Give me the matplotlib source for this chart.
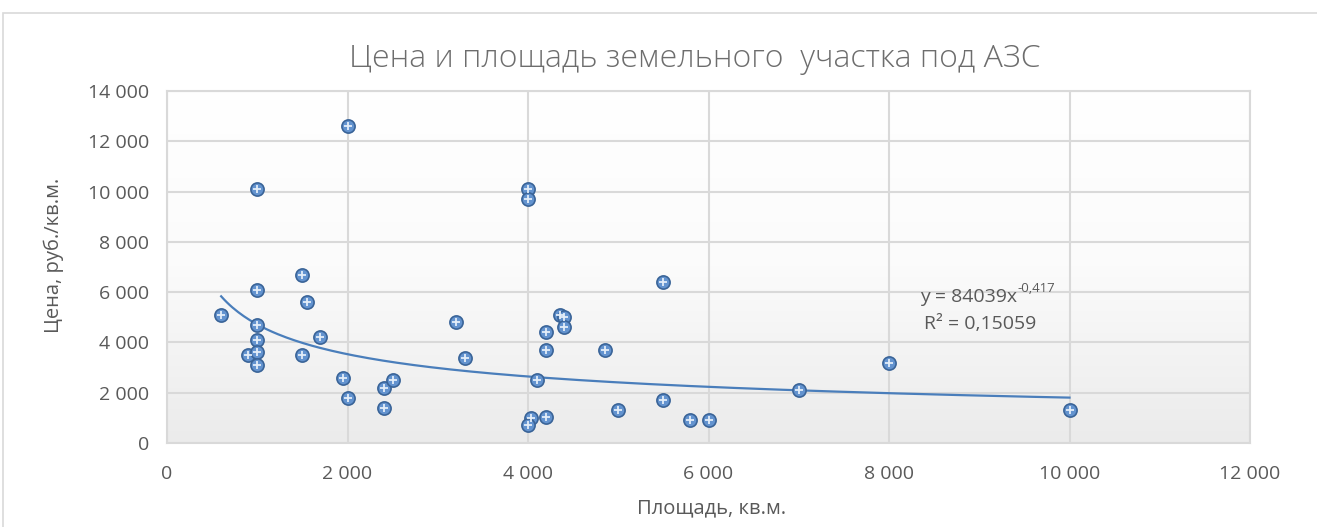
import numpy as np
import matplotlib
matplotlib.use("Agg")
import matplotlib.pyplot as plt
from matplotlib.ticker import FuncFormatter, MultipleLocator
from matplotlib.patches import Rectangle

plt.rcParams['font.family'] = ['Open Sans', 'DejaVu Sans']

# data
area = [600, 1000, 1000, 1000, 1000, 900, 1000, 1000,
        1500, 1550, 1500, 1700,
        2000, 1950, 2000, 2400, 2500, 2400,
        3200, 3300,
        4000, 4000, 4100, 4030, 4000, 4200, 4200, 4200, 4350, 4400, 4400,
        4850, 5000, 5500, 5500, 5800, 6000, 7000, 8000, 10000]
price = [5100, 10100, 6100, 4700, 4100, 3500, 3600, 3100,
         6700, 5600, 3500, 4200,
         12600, 2600, 1800, 2200, 2500, 1400,
         4800, 3400,
         10100, 9700, 2500, 1000, 700, 1050, 4400, 3700, 5100, 5000, 4600,
         3700, 1300, 6400, 1700, 900, 900, 2100, 3200, 1300]

# power trend from the chart label
coef_a = 84039
coef_b = -0.417
r2_text = "0,15059"

title = "Цена и площадь земельного  участка под АЗС"
xlabel = "Площадь, кв.м."
ylabel = "Цена, руб./кв.м."

fig = plt.figure(figsize=(13.17, 5.27), dpi=100)
ax = fig.add_axes([167/1317, 1 - 443/527, (1250 - 167)/1317, (443 - 91)/527])

# outer chart border
fig.patches.append(Rectangle((3/1317, -0.05), 1.1, 1 - 13/527 + 0.05,
                             transform=fig.transFigure, fill=False,
                             edgecolor="#d9d9d9", linewidth=1.2))

# gradient plot area
grad = np.linspace(0, 1, 256).reshape(-1, 1)
cmap = matplotlib.colors.LinearSegmentedColormap.from_list(
    "bg", ["#ffffff", "#fbfbfb", "#ebebeb"])
ax.imshow(grad, extent=[0, 1, 0, 1], transform=ax.transAxes, cmap=cmap,
          aspect="auto", zorder=0, origin="upper")

ax.set_xlim(0, 12000)
ax.set_ylim(0, 14000)
ax.xaxis.set_major_locator(MultipleLocator(2000))
ax.yaxis.set_major_locator(MultipleLocator(2000))
fmt = FuncFormatter(lambda v, p: f"{int(v):,}".replace(",", " "))
ax.xaxis.set_major_formatter(fmt)
ax.yaxis.set_major_formatter(fmt)
ax.grid(True, color="#d9d9d9", linewidth=1.5, zorder=1)
ax.set_axisbelow(True)
for s in ax.spines.values():
    s.set_color("#d9d9d9")
    s.set_linewidth(1.5)
ax.tick_params(length=0, labelsize=14, colors="#595959")
ax.tick_params(axis="y", pad=13)
ax.tick_params(axis="x", pad=16)

# trend line
xs = np.linspace(min(area), max(area), 300)
ax.plot(xs, coef_a * xs ** coef_b, color="#4a7ebb", linewidth=1.6, zorder=3)

ax.scatter(area, price, s=90, facecolor="#6393cf", edgecolor="#3a6498",
           linewidth=1.2, zorder=4)
ax.scatter(area, price, s=26, marker="+", color="#e3edf8", linewidth=1.3,
           zorder=5)

eq = ax.text(0.785, 0.416, f"y = {coef_a}x", transform=ax.transAxes,
             ha="right", va="center", fontsize=14, color="#595959")
ax.annotate(str(coef_b).replace(".", ","), xy=(1, 1), xycoords=eq,
            xytext=(0, -5), textcoords="offset points", ha="left",
            va="bottom", fontsize=9.5, color="#595959")
ax.text(0.751, 0.338, f"R² = {r2_text}", transform=ax.transAxes,
        ha="center", va="center", fontsize=14, color="#595959")

fig.text(695/1317, 1 - 59/527, title, ha="center", va="center",
         fontsize=23, color="#6d6d6d", fontweight="light")
fig.text(712/1317, 1 - 508/527, xlabel, ha="center", va="center",
         fontsize=14.5, color="#595959")
fig.text(54/1317, 1 - 255/527, ylabel, ha="center", va="center",
         rotation=90, fontsize=14.5, color="#595959")

fig.savefig("out.png", dpi=100)
